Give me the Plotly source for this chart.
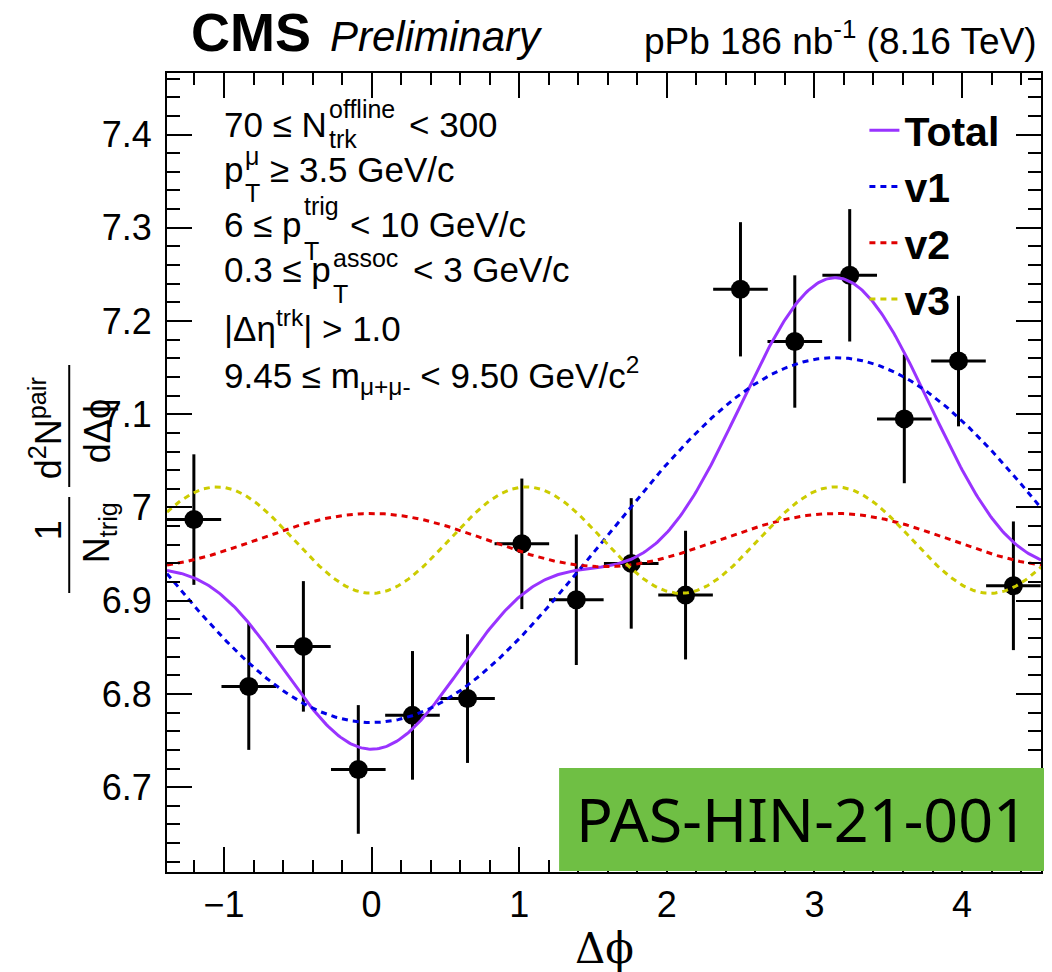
import numpy as np
import plotly.graph_objects as go

# Per-trigger associated yield vs delta-phi (pPb, 8.16 TeV)
dphi = [-1.204, -0.832, -0.462, -0.090, 0.277, 0.650, 1.018, 1.387,
        1.759, 2.127, 2.499, 2.867, 3.239, 3.609, 3.976, 4.348]
pair_yield = [6.987, 6.808, 6.851, 6.719, 6.777, 6.795, 6.961, 6.901,
              6.940, 6.906, 7.234, 7.178, 7.249, 7.095, 7.157, 6.916]
stat_err = [0.070, 0.068, 0.070, 0.069, 0.069, 0.069, 0.070, 0.070,
            0.070, 0.069, 0.072, 0.071, 0.071, 0.069, 0.070, 0.069]
bin_half_width = 0.185

# Fourier fit parameters: a0 * (1 + 2 * sum_n vn cos(n dphi))
fit_a0 = 6.965
fit_v1 = -0.01405
fit_v2 = 0.00205
fit_v3 = -0.0041

x_range = [-1.386, 4.535]
y_range = [6.609, 7.466]

# frame of the plot area in page pixels
PL, PR, PT, PB = 167, 1043, 73, 872
W, H = 1052, 972


def px_x(px):
    return (px - PL) / (PR - PL)


def px_y(py):
    return (PB - py) / (PB - PT)


SANS = "Liberation Sans, Arial, Helvetica, sans-serif"
SERIF = "DejaVu Serif, Liberation Serif, serif"

phi = np.linspace(x_range[0], x_range[1], 500)
comp1 = fit_a0 * (1 + 2 * fit_v1 * np.cos(phi))
comp2 = fit_a0 * (1 + 2 * fit_v2 * np.cos(2 * phi))
comp3 = fit_a0 * (1 + 2 * fit_v3 * np.cos(3 * phi))
total = fit_a0 * (1 + 2 * (fit_v1 * np.cos(phi) + fit_v2 * np.cos(2 * phi)
                           + fit_v3 * np.cos(3 * phi)))

fig = go.Figure()

fig.add_trace(go.Scatter(
    x=dphi, y=pair_yield, mode="markers", showlegend=False,
    marker=dict(color="black", size=19),
    error_y=dict(type="data", array=stat_err, color="black", thickness=3, width=0),
    error_x=dict(type="data", array=[bin_half_width] * len(dphi), color="black",
                 thickness=3, width=0),
))

fig.add_trace(go.Scatter(x=phi, y=total, mode="lines", name="Total",
                         line=dict(color="#9933FF", width=3)))
fig.add_trace(go.Scatter(x=phi, y=comp1, mode="lines", name="v1",
                         line=dict(color="#0000E6", width=3, dash="6px,5px")))
fig.add_trace(go.Scatter(x=phi, y=comp2, mode="lines", name="v2",
                         line=dict(color="#E00000", width=3, dash="6px,5px")))
fig.add_trace(go.Scatter(x=phi, y=comp3, mode="lines", name="v3",
                         line=dict(color="#CCCC00", width=3, dash="6px,5px")))

axis_common = dict(
    showline=True, linecolor="black", linewidth=2, mirror="ticks",
    ticks="inside", tickcolor="black", tickwidth=2, ticklen=25,
    showgrid=False, zeroline=False,
    tickfont=dict(family=SANS, size=36, color="black"),
)

fig.update_xaxes(range=x_range, tick0=0, dtick=1,
                 minor=dict(dtick=0.2, ticks="inside", ticklen=12,
                            tickwidth=2, tickcolor="black", showgrid=False),
                 **axis_common)
fig.update_yaxes(range=y_range, tick0=7, dtick=0.1,
                 minor=dict(dtick=0.02, ticks="inside", ticklen=13,
                            tickwidth=2, tickcolor="black", showgrid=False),
                 ticklabelstandoff=6,
                 **axis_common)

ann = []


def text_at(text, x_px, baseline_px, size, anchor="left", family=SANS,
            weight="normal", style="normal", color="black"):
    ann.append(dict(
        text=text, xref="paper", yref="paper", showarrow=False,
        x=px_x(x_px), y=px_y(baseline_px - 0.3465 * size),
        xanchor=anchor, yanchor="middle",
        font=dict(family=family, size=size, color=color, weight=weight, style=style),
    ))


# header
text_at("CMS", 189, 51, 54, weight="bold")
text_at("Preliminary", 328, 51, 42, style="italic")
text_at("pPb 186 nb<sup>-1</sup> (8.16 TeV)", 1041, 51, 37, anchor="right")

# selection list
MAIN, SCR = 35, 25
text_at("70 ≤ N", 222, 137, MAIN)
text_at("offline", 327, 118, SCR)
text_at("trk", 327, 148, SCR)
text_at("< 300", 408, 137, MAIN)

text_at("p", 222, 182, MAIN)
text_at("μ", 243, 165, SCR)
text_at("T", 243, 202, SCR)
text_at("≥ 3.5 GeV/c", 268, 182, MAIN)

text_at("6 ≤ p", 222, 237, MAIN)
text_at("trig", 302, 215, SCR)
text_at("T", 302, 260, SCR)
text_at("< 10 GeV/c", 348, 237, MAIN)

text_at("0.3 ≤ p", 222, 282, MAIN)
text_at("assoc", 331, 267, SCR)
text_at("T", 331, 303, SCR)
text_at("< 3 GeV/c", 412, 282, MAIN)

text_at("|Δη<sup>trk</sup>| > 1.0", 222, 338, MAIN)
text_at("9.45 ≤ m<sub>μ+μ-</sub> < 9.50 GeV/c<sup>2</sup>", 222, 388, MAIN)

# x-axis title
text_at("Δϕ", 605, 963, 42, anchor="center", family=SERIF)

# y-axis title built from two stacked fractions
ROT = dict(xref="paper", yref="paper", showarrow=False, textangle=-90,
           xanchor="center", yanchor="middle")
ann.append(dict(text="1", x=px_x(48), y=px_y(530),
                font=dict(family=SANS, size=36, color="black"), **ROT))
ann.append(dict(text="N<sub>trig</sub>", x=px_x(99), y=px_y(533),
                font=dict(family=SANS, size=36, color="black"), **ROT))
ann.append(dict(text="d<sup>2</sup>N<sup>pair</sup>", x=px_x(46), y=px_y(428),
                font=dict(family=SANS, size=36, color="black"), **ROT))
ann.append(dict(text="dΔϕ", x=px_x(97), y=px_y(431),
                font=dict(family="Liberation Sans, DejaVu Sans, sans-serif",
                          size=36, color="black"), **ROT))

# report label
ann.append(dict(text="PAS-HIN-21-001", xref="paper", yref="paper", showarrow=False,
                x=px_x(803), y=px_y(818), xanchor="center", yanchor="middle",
                font=dict(family="Noto Sans, sans-serif", size=61, color="black")))

shapes = [
    dict(type="line", xref="paper", yref="paper", x0=px_x(69), x1=px_x(69),
         y0=px_y(497), y1=px_y(593), line=dict(color="black", width=2)),
    dict(type="line", xref="paper", yref="paper", x0=px_x(69), x1=px_x(69),
         y0=px_y(365), y1=px_y(487), line=dict(color="black", width=2)),
    dict(type="rect", xref="paper", yref="paper", x0=px_x(560), x1=px_x(1046),
         y0=px_y(871), y1=px_y(768), fillcolor="#6FBF44", line=dict(width=0),
         layer="above"),
]

fig.update_layout(
    width=W, height=H,
    margin=dict(l=PL, r=W - PR, t=PT, b=H - PB),
    paper_bgcolor="white", plot_bgcolor="white",
    annotations=ann, shapes=shapes,
    legend=dict(x=px_x(866), y=px_y(97), xanchor="left", yanchor="top",
                bgcolor="rgba(0,0,0,0)", borderwidth=0,
                font=dict(family=SANS, size=41, color="black", weight="bold"),
                itemwidth=30),
)

fig.write_html("out.html")
